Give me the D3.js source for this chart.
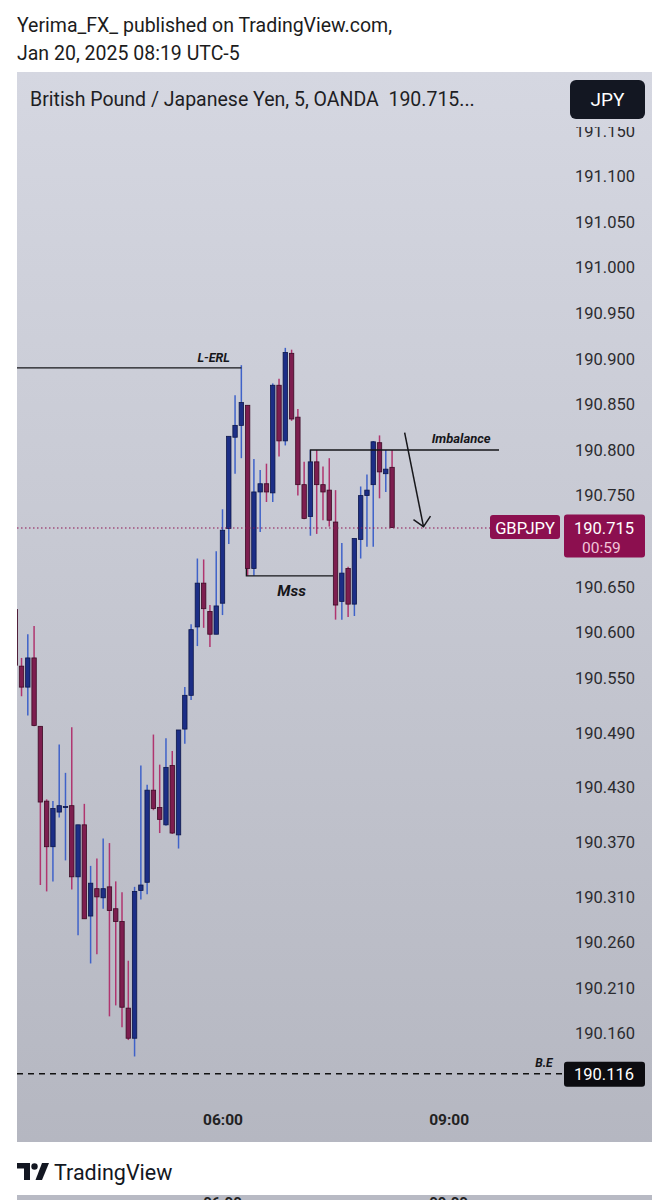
<!DOCTYPE html>
<html>
<head>
<meta charset="utf-8">
<script src="https://cdn.jsdelivr.net/npm/d3@7/dist/d3.min.js"></script>
<style>
  html, body { margin: 0; padding: 0; background: #fff; }
  svg { display: block; font-family: Roboto, "Noto Sans", sans-serif; }
</style>
</head>
<body>
<div id="chart"></div>
<script>
// 5 minute candles, GBPJPY, first bar opens 03:15
const firstBar = "2025-01-20 03:15";
const opens = [190.625,190.563,190.540,190.572,190.497,190.415,190.365,190.403,190.409,190.410,
  190.332,190.389,190.289,190.319,190.309,190.321,190.297,190.283,190.188,190.155,
  190.317,190.326,190.427,190.408,190.389,190.454,190.378,190.494,190.531,190.606,
  190.654,190.623,190.598,190.632,190.714,190.814,190.827,190.849,190.670,190.754,
  190.763,190.753,190.871,190.810,190.906,190.836,190.762,190.727,190.787,190.762,
  190.756,190.721,190.634,190.670,190.631,190.702,190.750,190.762,190.808,190.774,190.781];
const highs = [190.630,190.572,190.598,190.607,190.497,190.417,190.415,190.477,190.446,190.496,
  190.389,190.412,190.344,190.352,190.374,190.369,190.327,190.315,190.240,190.321,
  190.454,190.433,190.488,190.455,190.484,190.470,190.493,190.540,190.609,190.681,
  190.680,190.630,190.689,190.735,190.815,190.860,190.893,190.849,190.790,190.778,
  190.785,190.873,190.878,190.912,190.910,190.845,190.787,190.800,190.800,190.782,
  190.791,190.756,190.698,190.672,190.703,190.760,190.773,190.810,190.816,190.800,190.800];
const lows = [190.561,190.530,190.509,190.497,190.323,190.316,190.327,190.397,190.350,190.318,
  190.268,190.286,190.237,190.247,190.297,190.179,190.191,190.167,190.153,190.135,
  190.307,190.313,190.405,190.380,190.388,190.379,190.363,190.478,190.526,190.585,
  190.605,190.584,190.598,190.619,190.697,190.774,190.791,190.662,190.662,190.710,
  190.743,190.743,190.793,190.805,190.832,190.750,190.724,190.706,190.708,190.723,
  190.716,190.614,190.614,190.617,190.618,190.681,190.694,190.694,190.747,190.754,190.715];
const closes = [190.564,190.540,190.572,190.498,190.414,190.365,190.407,190.410,190.409,190.332,
  190.389,190.286,190.325,190.310,190.319,190.295,190.283,190.189,190.155,190.316,
  190.323,190.427,190.407,190.395,190.452,190.380,190.493,190.531,190.603,190.654,
  190.626,190.598,190.629,190.712,190.815,190.827,190.852,190.670,190.754,190.763,
  190.754,190.871,190.810,190.907,190.834,190.762,190.725,190.787,190.762,190.754,
  190.723,190.630,190.665,190.631,190.703,190.750,190.756,190.809,190.776,190.779,190.715];

const priceTicks = [191.150,191.100,191.050,191.000,190.950,190.900,190.850,190.800,190.750,
  190.650,190.600,190.550,190.490,190.430,190.370,190.310,190.260,190.210,190.160];
const timeTicks = ["2025-01-20 06:00", "2025-01-20 09:00"];
const lastPrice = 190.715;
const countdown = "00:59";
const bePrice = 190.116;
const lerlPrice = 190.890, imbPrice = 190.800, mssPrice = 190.662;

const W = 669, H = 1200;
const panel = { x0: 17, x1: 652, y0: 72, y1: 1142 };
const plotRight = 565;

const parse = d3.timeParse("%Y-%m-%d %H:%M");
const fmtTime = d3.timeFormat("%H:%M");
const t0 = parse(firstBar);
const candles = opens.map((o, i) => ({
  t: d3.timeMinute.offset(t0, 5 * i),
  o, h: highs[i], l: lows[i], c: closes[i]
}));

const x = d3.scaleTime()
  .domain([parse(timeTicks[0]), parse(timeTicks[1])])
  .range([222.5, 448.6]);
const y = d3.scaleLinear().domain([190.55, 191.15]).range([678, 130.8]);
const at = (t, m) => d3.timeMinute.offset(parse(t), m);

const svg = d3.select("#chart").append("svg")
  .attr("width", W).attr("height", H).attr("viewBox", `0 0 ${W} ${H}`);

const defs = svg.append("defs");
const grad = defs.append("linearGradient").attr("id", "bg").attr("x1", 0).attr("y1", 0).attr("x2", 0).attr("y2", 1);
grad.append("stop").attr("offset", "0%").attr("stop-color", "#d5d7e1");
grad.append("stop").attr("offset", "100%").attr("stop-color", "#b5b7c1");
defs.append("clipPath").attr("id", "plotClip").append("rect")
  .attr("x", panel.x0).attr("y", panel.y0).attr("width", plotRight - panel.x0).attr("height", panel.y1 - panel.y0);
// top label is half hidden under the header in the original
defs.append("clipPath").attr("id", "axisClip").append("rect")
  .attr("x", plotRight).attr("y", 127).attr("width", panel.x1 - plotRight).attr("height", panel.y1 - 127);

// top caption
svg.append("text").attr("x", 17).attr("y", 32).attr("font-size", 19.5).attr("fill", "#1c1c1c")
  .text("Yerima_FX_ published on TradingView.com,");
svg.append("text").attr("x", 17).attr("y", 60).attr("font-size", 19.5).attr("fill", "#1c1c1c")
  .text("Jan 20, 2025 08:19 UTC-5");

// panel
svg.append("rect").attr("x", panel.x0).attr("y", panel.y0)
  .attr("width", panel.x1 - panel.x0).attr("height", panel.y1 - panel.y0).attr("fill", "url(#bg)");

svg.append("text").attr("x", 30).attr("y", 106).attr("font-size", 19.5).attr("fill", "#1e1e24")
  .style("white-space", "pre")
  .text("British Pound / Japanese Yen, 5, OANDA  190.715...");
svg.append("rect").attr("x", 570).attr("y", 80).attr("width", 75).attr("height", 39).attr("rx", 6).attr("fill", "#131722");
svg.append("text").attr("x", 607.5).attr("y", 106).attr("text-anchor", "middle").attr("font-size", 19).attr("fill", "#fff").text("JPY");

// price axis
const yAxis = svg.append("g").attr("clip-path", "url(#axisClip)")
  .append("g").attr("transform", `translate(${plotRight},0)`)
  .call(d3.axisRight(y).tickValues(priceTicks).tickSize(0).tickPadding(10).tickFormat(d3.format(".3f")));
yAxis.select(".domain").remove();
yAxis.selectAll("text").attr("font-size", 16.5).attr("fill", "#2b2b2f").attr("font-family", "Roboto, sans-serif");

// time axis
const xAxis = svg.append("g").attr("transform", `translate(0,1111)`)
  .call(d3.axisBottom(x).tickValues(timeTicks.map(parse)).tickSize(0).tickFormat(fmtTime));
xAxis.select(".domain").remove();
xAxis.selectAll("text").attr("font-size", 15.5).attr("font-weight", "bold").attr("fill", "#222").attr("font-family", "Roboto, sans-serif");

const plot = svg.append("g").attr("clip-path", "url(#plotClip)");

// candles
const up = d => d.c >= d.o;
const bar = plot.append("g").selectAll("g").data(candles).join("g");
bar.append("line")
  .attr("x1", d => x(d.t)).attr("x2", d => x(d.t))
  .attr("y1", d => y(d.h)).attr("y2", d => y(d.l))
  .attr("stroke", d => up(d) ? "#3f62c9" : "#b0356f").attr("stroke-width", 1.5);
bar.append("rect")
  .attr("x", d => x(d.t) - 2.2).attr("width", 4.4)
  .attr("y", d => y(Math.max(d.o, d.c)))
  .attr("height", d => Math.max(1, y(Math.min(d.o, d.c)) - y(Math.max(d.o, d.c))))
  .attr("fill", d => up(d) ? "#1c2e86" : "#7d1e4f")
  .attr("stroke", d => up(d) ? "#0d174a" : "#3d0a25").attr("stroke-width", 0.8);

// annotations
const ink = "#16161a";
plot.append("line").attr("x1", panel.x0).attr("x2", x(at("2025-01-20 06:15", 0)))
  .attr("y1", y(lerlPrice)).attr("y2", y(lerlPrice)).attr("stroke", ink).attr("stroke-width", 1.3);
plot.append("text").attr("x", x(at("2025-01-20 06:00", -7))).attr("y", y(190.897))
  .attr("text-anchor", "middle").attr("font-size", 12.5).attr("font-weight", "bold").attr("font-style", "italic")
  .attr("fill", ink).text("L-ERL");

plot.append("polyline")
  .attr("points", [[x(at("2025-01-20 07:10", 0)), y(190.787)], [x(at("2025-01-20 07:10", 0)), y(imbPrice)], [499, y(imbPrice)]].join(" "))
  .attr("fill", "none").attr("stroke", ink).attr("stroke-width", 1.3);
plot.append("text").attr("x", x(at("2025-01-20 09:00", 10))).attr("y", y(190.808))
  .attr("text-anchor", "middle").attr("font-size", 13).attr("font-weight", "bold").attr("font-style", "italic")
  .attr("fill", ink).text("Imbalance");

plot.append("polyline")
  .attr("points", [[x(at("2025-01-20 06:20", -1)), y(190.670)], [x(at("2025-01-20 06:20", -1)), y(mssPrice)], [x(at("2025-01-20 07:30", -2)), y(mssPrice)]].join(" "))
  .attr("fill", "none").attr("stroke", ink).attr("stroke-width", 1.3);
plot.append("text").attr("x", x(at("2025-01-20 06:55", 0))).attr("y", y(190.640))
  .attr("text-anchor", "middle").attr("font-size", 15.5).attr("font-weight", "bold").attr("font-style", "italic")
  .attr("fill", ink).text("Mss");

// arrow
const a0 = [x(at("2025-01-20 08:25", 0)), y(190.819)];
const a1 = [x(at("2025-01-20 08:40", 0)), y(190.716)];
plot.append("line").attr("x1", a0[0]).attr("y1", a0[1]).attr("x2", a1[0]).attr("y2", a1[1])
  .attr("stroke", ink).attr("stroke-width", 1.5);
plot.append("polyline")
  .attr("points", [[a1[0] - 10, a1[1] - 7], a1, [a1[0] + 7, a1[1] - 10.5]].join(" "))
  .attr("fill", "none").attr("stroke", ink).attr("stroke-width", 1.5);

// last price line
plot.append("line").attr("x1", panel.x0).attr("x2", 490).attr("y1", y(lastPrice) + 0.5).attr("y2", y(lastPrice) + 0.5)
  .attr("stroke", "#8e1352").attr("stroke-width", 1.2).attr("stroke-dasharray", "1.5,2.5");

// break-even line
plot.append("line").attr("x1", panel.x0).attr("x2", plotRight).attr("y1", y(bePrice)).attr("y2", y(bePrice))
  .attr("stroke", "#111").attr("stroke-width", 1.5).attr("stroke-dasharray", "6,5");
svg.append("text").attr("x", 544).attr("y", y(bePrice) - 7).attr("text-anchor", "middle")
  .attr("font-size", 12).attr("font-weight", "bold").attr("font-style", "italic").attr("fill", ink).text("B.E");

// price labels
const ly = y(lastPrice);
svg.append("rect").attr("x", 490).attr("y", ly - 12.5).attr("width", 70).attr("height", 24).attr("rx", 3).attr("fill", "#8c0f4f");
svg.append("text").attr("x", 525).attr("y", ly + 6).attr("text-anchor", "middle").attr("font-size", 16.5).attr("fill", "#fff").text("GBPJPY");
svg.append("rect").attr("x", 564).attr("y", ly - 13).attr("width", 81).attr("height", 43).attr("rx", 3).attr("fill", "#8c0f4f");
svg.append("text").attr("x", 604).attr("y", ly + 6).attr("text-anchor", "middle").attr("font-size", 16.5).attr("fill", "#fff").text(d3.format(".3f")(lastPrice));
svg.append("text").attr("x", 582).attr("y", ly + 25).attr("font-size", 15.5).attr("fill", "#f2c4d8").text(countdown);

const by = y(bePrice);
svg.append("rect").attr("x", 564).attr("y", by - 12).attr("width", 81).attr("height", 25).attr("rx", 3).attr("fill", "#0c0c10");
svg.append("text").attr("x", 604).attr("y", by + 6).attr("text-anchor", "middle").attr("font-size", 16.5).attr("fill", "#fff").text(d3.format(".3f")(bePrice));

// footer logo
const logo = svg.append("g").attr("fill", "#131722");
logo.append("path").attr("d", "M17,1163 H30 V1180 H24 V1168.5 H17 Z");
logo.append("circle").attr("cx", 34.5).attr("cy", 1166.5).attr("r", 3.2);
logo.append("path").attr("d", "M42,1163 H49 L42,1180 H35.5 Z");
svg.append("text").attr("x", 54).attr("y", 1180).attr("font-size", 21.5).attr("fill", "#131722").text("TradingView");

// clipped strip of the next image
defs.append("clipPath").attr("id", "stripClip").append("rect").attr("x", panel.x0).attr("y", 1195).attr("width", panel.x1 - panel.x0).attr("height", 5);
const strip = svg.append("g").attr("clip-path", "url(#stripClip)");
strip.append("rect").attr("x", panel.x0).attr("y", 1195).attr("width", panel.x1 - panel.x0).attr("height", 5).attr("fill", "#b8bac4");
strip.selectAll("text").data(timeTicks).join("text")
  .attr("x", d => x(parse(d))).attr("y", 1208).attr("text-anchor", "middle")
  .attr("font-size", 15).attr("font-weight", "bold").attr("fill", "#222").text(d => fmtTime(parse(d)));
</script>
</body>
</html>
